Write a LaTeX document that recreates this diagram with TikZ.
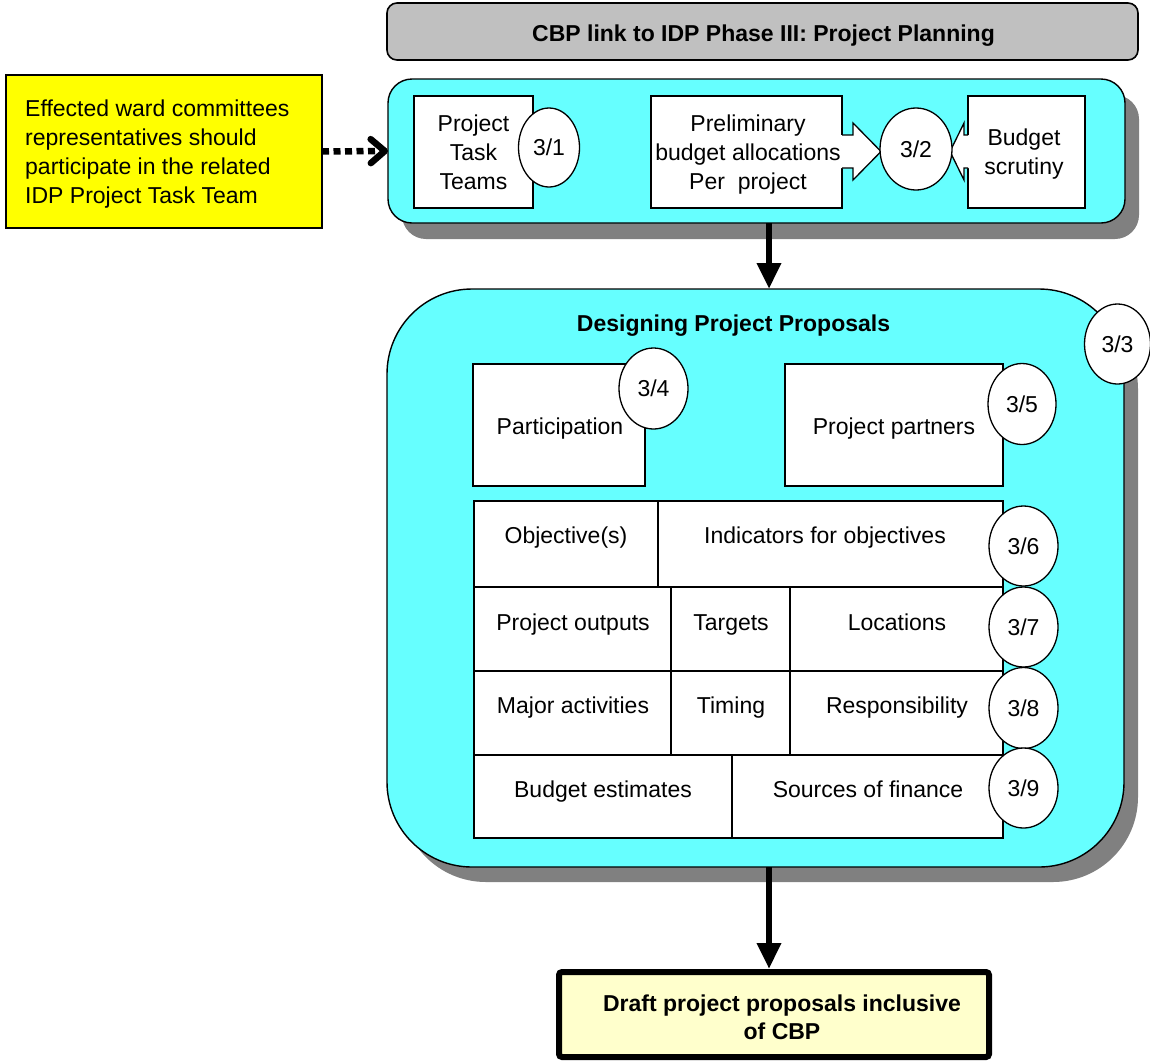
\documentclass[tikz,border=0pt]{standalone}
\usepackage{fontspec}
\setmainfont{Liberation Sans}
\usetikzlibrary{arrows.meta,shapes.geometric}

\definecolor{panelcyan}{HTML}{66FFFF}
\definecolor{titlegray}{HTML}{C0C0C0}
\definecolor{shadowgray}{HTML}{808080}
\definecolor{noteyellow}{HTML}{FFFF00}
\definecolor{paleyellow}{HTML}{FFFFCC}

% table cell: name, x1, y1, x2, y2, text, text x, text y
\newcommand{\tcell}[8]{%
  \node[box, minimum width={#4-#2}, minimum height={#5-#3}] (#1) at ({(#2+#4)/2},{(#3+#5)/2}) {};
  \node[txt, anchor=base] (#1-text) at (#7,{#8+8}) {#6};}

\begin{document}
\begin{tikzpicture}[x=1pt,y=-1pt,
  txt/.style={font=\fontsize{23}{29}\selectfont, inner sep=0pt},
  boldtxt/.style={font=\fontsize{23}{28}\selectfont\bfseries, inner sep=0pt},
  box/.style={draw, fill=white, line width=1.3pt, rectangle, inner sep=0pt, outer sep=0pt},
  num/.style={draw, fill=white, ellipse, line width=1.3pt, inner sep=0pt, outer sep=0pt,
    font=\fontsize{23}{29}\selectfont},
  panel/.style={draw, fill=panelcyan, line width=1.4pt, rectangle, inner sep=0pt, outer sep=0pt},
  panelshadow/.style={fill=shadowgray, rectangle, inner sep=0pt, outer sep=0pt},
  flow/.style={line width=6.5pt, -{Triangle[length=26pt,width=23pt]}},
  feed/.style={line width=6.5pt, dash pattern=on 7pt off 4.5pt,
    -{Straight Barb[length=14pt,width=24pt,line cap=round,line join=round]}},
  blockarrow/.style={draw, fill=white, line width=1.3pt, line join=miter}
]
\useasboundingbox (0,0) rectangle (1150,1061);

% phase title bar
\node[draw, fill=titlegray, line width=1.6pt, rounded corners=10pt, inner sep=0pt,
  minimum width=751, minimum height=57] (title) at (762.5,31.5) {};
\node[boldtxt, anchor=base] (title-text) at (763.5,41) {CBP link to IDP Phase III: Project Planning};

% note on ward committees
\node[draw, fill=noteyellow, line width=1.2pt, inner sep=0pt, outer sep=0pt,
  minimum width=316, minimum height=153] (note) at (164,151.5) {};
\node[txt, anchor=west, align=left] (note-text) at (25,154)
  {Effected ward committees\\representatives should\\participate in the related\\IDP Project Task Team};

% upper panel with shadow
\node[panelshadow, rounded corners=24pt, minimum width=737, minimum height=144] (topshadow) at (770.5,167) {};
\node[panel, rounded corners=24pt, minimum width=737, minimum height=144] (toppanel) at (756.5,151) {};

\draw[feed] (note.east) -- (toppanel.west);

% upper panel contents
\node[box, minimum width=119, minimum height=112] (ptt) at (473.5,152) {};
\node[txt, align=center] (ptt-text) at (473.5,152) {Project\\Task\\Teams};
\node[num, minimum width=61, minimum height=79] (n31) at (549,147.5) {3/1};

\node[box, minimum width=191, minimum height=112] (prelim) at (746.5,152) {};
\node[txt, align=center] (prelim-text) at (748,155) {Preliminary\\budget allocations\\Per~~project};
\node[box, minimum width=117, minimum height=112] (scrut) at (1026.5,152) {};
\node[txt, align=center] (scrut-text) at (1024,154) {Budget\\scrutiny};

% block arrows leading into 3/2
\fill[white] (840,135) -- (853,135) -- (853,123) -- (881,151.5) -- (853,180) -- (853,168) -- (840,168) -- cycle;
\draw[blockarrow] (842,135) -- (853,135) -- (853,123) -- (881,151.5) -- (853,180) -- (853,168) -- (842,168);
\fill[white] (970,135) -- (964,135) -- (964,123) -- (950,151.5) -- (964,180) -- (964,168) -- (970,168) -- cycle;
\draw[blockarrow] (968,135) -- (964,135) -- (964,123) -- (950,151.5) -- (964,180) -- (964,168) -- (968,168);
\node[num, minimum width=72, minimum height=82] (n32) at (916,149) {3/2};

% design panel with shadow
\node[panelshadow, rounded corners=85pt, minimum width=737, minimum height=578] (bigshadow) at (769.5,593) {};
\node[panel, rounded corners=85pt, minimum width=737, minimum height=578] (bigpanel) at (755.5,578) {};
\node[boldtxt, anchor=base] (bigtitle) at (733.5,331) {Designing Project Proposals};
\node[num, minimum width=66, minimum height=80] (n33) at (1117.5,344) {3/3};

\coordinate (drop) at (769,223);
\draw[flow] (drop) -- (drop |- bigpanel.north);

\node[box, minimum width=172, minimum height=122] (particip) at (559,425) {};
\node[txt, anchor=base] (particip-text) at (560,434) {Participation};
\node[num, minimum width=69, minimum height=81] (n34) at (653.5,388.5) {3/4};
\node[box, minimum width=218, minimum height=122] (partners) at (894,425) {};
\node[txt, anchor=base] (partners-text) at (894,434) {Project partners};
\node[num, minimum width=68, minimum height=81] (n35) at (1022,404) {3/5};

% planning table
\tcell{obj}{474}{501}{658}{587}{Objective(s)}{566}{535}
\tcell{ind}{658}{501}{1003}{587}{Indicators for objectives}{825}{535}
\tcell{outp}{474}{587}{671}{671}{Project outputs}{573}{622}
\tcell{targ}{671}{587}{790}{671}{Targets}{731}{622}
\tcell{loc}{790}{587}{1003}{671}{Locations}{897}{622}
\tcell{act}{474}{671}{671}{755}{Major activities}{573}{705}
\tcell{tim}{671}{671}{790}{755}{Timing}{731}{705}
\tcell{resp}{790}{671}{1003}{755}{Responsibility}{897}{705}
\tcell{bud}{474}{755}{732}{838}{Budget estimates}{603}{789}
\tcell{fin}{732}{755}{1003}{838}{Sources of finance}{868}{789}

\node[num, minimum width=69, minimum height=80] (n36) at (1023.5,546) {3/6};
\node[num, minimum width=69, minimum height=80] (n37) at (1023.5,627) {3/7};
\node[num, minimum width=69, minimum height=81] (n38) at (1023.5,708) {3/8};
\node[num, minimum width=69, minimum height=80] (n39) at (1023.5,788) {3/9};

% output
\node[draw, fill=paleyellow, line width=6pt, rounded corners=3pt, inner sep=0pt, outer sep=0pt,
  minimum width=430, minimum height=85] (draft) at (774,1014.5) {};
\node[boldtxt, align=center] (draft-text) at (782,1017) {Draft project proposals inclusive\\of CBP};

\coordinate (lift) at (769,867);
\draw[flow] (lift) -- ([yshift=3pt]lift |- draft.north);
\end{tikzpicture}
\end{document}
